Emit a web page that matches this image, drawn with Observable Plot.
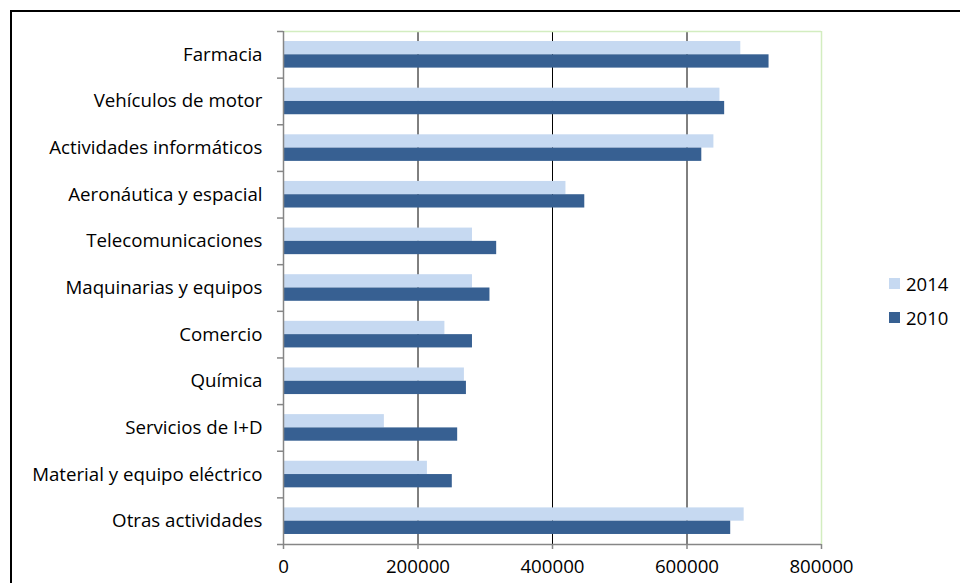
<!DOCTYPE html>
<html>
<head>
<meta charset="utf-8">
<script src="https://cdn.jsdelivr.net/npm/d3@7"></script>
<script src="https://cdn.jsdelivr.net/npm/@observablehq/plot@0.6"></script>
<style>
  html, body { margin: 0; padding: 0; background: #fff; overflow: hidden; }
  #stage { position: relative; width: 960px; height: 583px; overflow: hidden; font-family: "Open Sans", sans-serif; }
  #frame { position: absolute; left: 10px; top: 10px; width: 1200px; height: 1200px;
           border-left: 2px solid #000; border-top: 2px solid #000; }
  #chart { position: absolute; left: 0; top: 0; }
  #legend { position: absolute; left: 889px; top: 266px; font-size: 18.5px; color: #000; }
  .item { display: flex; align-items: center; height: 34px; }
  .swatch { width: 11px; height: 11px; margin-right: 6px; }
</style>
</head>
<body>
<div id="stage">
  <div id="frame"></div>
  <div id="chart"></div>
  <div id="legend"></div>
</div>
<script>
// Sector names, top to bottom
const categories = [
  "Farmacia",
  "Vehículos de motor",
  "Actividades informáticos",
  "Aeronáutica y espacial",
  "Telecomunicaciones",
  "Maquinarias y equipos",
  "Comercio",
  "Química",
  "Servicios de I+D",
  "Material y equipo eléctrico",
  "Otras actividades"
];

// Values per sector for each year
const values2014 = [680000, 649000, 640000, 420000, 281000, 281000, 240000, 269000, 150000, 214000, 685000];
const values2010 = [722000, 656000, 622000, 448000, 317000, 307000, 281000, 272000, 259000, 251000, 665000];

const years = ["2014", "2010"];
const colors = ["#C6D9F1", "#376092"];
const xTicks = [0, 200000, 400000, 600000, 800000];

// One row per sector and year; each sector occupies one unit of the y scale
const rows = categories.flatMap((category, index) => [
  {category, index, year: "2014", value: values2014[index]},
  {category, index, year: "2010", value: values2010[index]}
]);

// Bars of a group fill the middle of their slot, 2014 above 2010
const gap = 0.215;
const barTop = d => d.index + (d.year === "2014" ? gap : 0.5);
const barBottom = d => d.index + (d.year === "2014" ? 0.5 : 1 - gap);

const n = categories.length;
const axisGray = "#868686";
const borderGreen = "#d3edc0";

const chart = Plot.plot({
  width: 960,
  height: 583,
  marginLeft: 283,
  marginRight: 139,
  marginTop: 31,
  marginBottom: 39,
  style: {fontFamily: "Open Sans", fontSize: "18.7px", color: "#000", background: "transparent", overflow: "visible"},
  x: {domain: [0, 800000]},
  y: {domain: [0, n], reverse: true},
  color: {domain: years, range: colors},
  marks: [
    Plot.ruleX(xTicks.slice(1, -1), {stroke: "#000", strokeWidth: 1}),
    Plot.ruleX([800000], {stroke: borderGreen, strokeWidth: 1.5}),
    Plot.ruleY([0], {stroke: borderGreen, strokeWidth: 1.5}),
    Plot.rectX(rows, {x1: 0, x2: "value", y1: barTop, y2: barBottom, fill: "year"}),
    Plot.ruleX([0], {stroke: axisGray, strokeWidth: 1.5}),
    Plot.ruleY([n], {stroke: axisGray, strokeWidth: 1.5}),
    // tick marks between sectors
    Plot.axisY({ticks: d3.range(n + 1), tickSize: 6, tickFormat: () => "", stroke: axisGray, strokeWidth: 1.5, label: null}),
    // sector names centred in their slot
    Plot.axisY({ticks: d3.range(n).map(i => i + 0.5), tickSize: 0, tickPadding: 21,
                tickFormat: v => categories[Math.floor(v)], label: null}),
    Plot.axisX({ticks: xTicks, tickSize: 5, tickPadding: 10, tickFormat: d3.format("d"),
                stroke: axisGray, strokeWidth: 1.5, label: null})
  ]
});
document.getElementById("chart").appendChild(chart);

// Legend
const legend = d3.select("#legend");
years.forEach((year, i) => {
  const item = legend.append("div").attr("class", "item");
  item.append("div").attr("class", "swatch").style("background", colors[i]);
  item.append("span").text(year);
});
</script>
</body>
</html>
